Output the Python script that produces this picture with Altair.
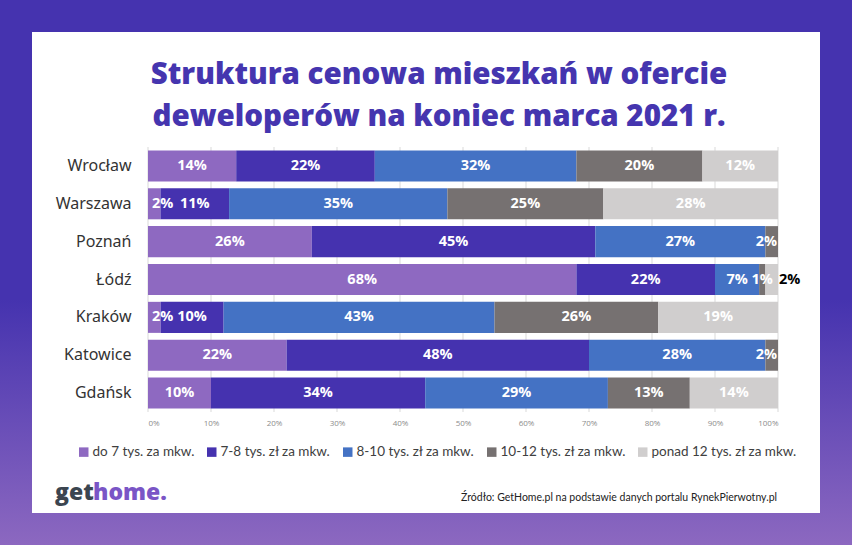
import altair as alt
import pandas as pd

# ---------------- data ----------------
cities = ["Wrocław", "Warszawa", "Poznań", "Łódź", "Kraków", "Katowice", "Gdańsk"]
categories = [
    "do 7 tys. za mkw.",
    "7-8 tys. zł za mkw.",
    "8-10 tys. zł za mkw.",
    "10-12 tys. zł za mkw.",
    "ponad 12 tys. zł za mkw.",
]
colors = ["#8E69C1", "#4532AF", "#4472C4", "#767171", "#D0CECE"]

share_do7 = [14, 2, 26, 68, 2, 22, 10]
share_7_8 = [22, 11, 45, 22, 10, 48, 34]
share_8_10 = [32, 35, 27, 7, 43, 28, 29]
share_10_12 = [20, 25, 2, 1, 26, 2, 13]
share_over12 = [12, 28, 0, 2, 19, 0, 14]

tick_values = [0, 0.1, 0.2, 0.3, 0.4, 0.5, 0.6, 0.7, 0.8, 0.9, 1.0]

title_lines = ["Struktura cenowa mieszkań w ofercie", "deweloperów na koniec marca 2021 r."]
source_text = "Źródło: GetHome.pl na podstawie danych portalu RynekPierwotny.pl"

# ---------------- table ----------------
series = [share_do7, share_7_8, share_8_10, share_10_12, share_over12]
rows = []
for i, city in enumerate(cities):
    vals = [s[i] for s in series]
    total = sum(vals)
    cum = 0
    for j, v in enumerate(vals):
        start = cum / total
        cum += v
        end = cum / total
        if v > 0:
            last = j == len(categories) - 1
            if last and v <= 2:
                place = "outside"
            elif start == 0 and v < 4:
                place = "left"
            elif end > 0.999 and v <= 2:
                place = "right"
            else:
                place = "center"
            rows.append({
                "city": city, "cat": categories[j], "order": j, "value": v,
                "start": start, "end": end, "mid": (start + end) / 2,
                "label": f"{v}%", "place": place,
            })
df = pd.DataFrame(rows)
ticks_df = pd.DataFrame({"t": tick_values})
one = pd.DataFrame({"a": [0]})

# ---------------- layout constants ----------------
W, H = 630, 265
PL, PT = 148, 147
PR, PB = 852 - PL - W, 545 - PT - H

xscale = alt.Scale(domain=[0, 1], nice=False, zero=False)
yscale = alt.Scale(domain=cities, paddingInner=0.18, paddingOuter=0.09)
xaxis = alt.Axis(format=".0%", values=tick_values, labelFontSize=8, labelColor="#8C8C8C",
                 labelFont="Open Sans", domain=False, ticks=False, grid=False,
                 labelPadding=7, title=None, zindex=1)
yaxis = alt.Axis(labelFontSize=16, labelColor="#333333", labelFont="Noto Sans",
                 domain=False, ticks=False, grid=False, labelPadding=17, title=None, zindex=1)

# ---------------- decorations ----------------
gradient = alt.LinearGradient(
    gradient="linear", x1=0, x2=0, y1=0, y2=1,
    stops=[alt.GradientStop(color="#4533AF", offset=0),
           alt.GradientStop(color="#4533AF", offset=0.55),
           alt.GradientStop(color="#8C68C0", offset=1)],
)
bg = alt.Chart(one).mark_rect(color=gradient).encode(
    x=alt.value(-PL), x2=alt.value(W + PR), y=alt.value(-PT), y2=alt.value(H + PB))
card = alt.Chart(one).mark_rect(color="white").encode(
    x=alt.value(32 - PL), x2=alt.value(820 - PL), y=alt.value(32 - PT), y2=alt.value(513 - PT))

grid = alt.Chart(ticks_df).mark_rule(color="#D9D9D9", strokeWidth=1).encode(
    x=alt.X("t:Q", scale=xscale, axis=xaxis), y=alt.value(0), y2=alt.value(H))

# ---------------- bars ----------------
bars = alt.Chart(df).mark_bar().encode(
    x=alt.X("start:Q", scale=xscale, axis=xaxis),
    x2="end:Q",
    y=alt.Y("city:N", scale=yscale, axis=yaxis, sort=cities),
    color=alt.Color("cat:N", scale=alt.Scale(domain=categories, range=colors),
                    legend=alt.Legend(orient="none", legendX=77 - PL, legendY=445 - PT,
                                      direction="horizontal", title=None,
                                      symbolType="square", symbolSize=90,
                                      symbolStrokeWidth=0, labelFontSize=13.5,
                                      labelFont="Lato", labelColor="#404040",
                                      columnPadding=10, labelOffset=2, labelLimit=300)),
    order=alt.Order("order:Q"),
)


def label_layer(place, field, color, align, dx):
    return alt.Chart(df).transform_filter(f"datum.place == '{place}'").mark_text(
        color=color, fontSize=14.5, fontWeight="bold", font="Open Sans",
        baseline="middle", align=align, dx=dx
    ).encode(
        x=alt.X(f"{field}:Q", scale=xscale, axis=xaxis),
        y=alt.Y("city:N", scale=yscale, axis=yaxis, sort=cities),
        text="label:N",
    )


labels_center = label_layer("center", "mid", "white", "center", 0)
labels_left = label_layer("left", "start", "white", "left", 4)
labels_right = label_layer("right", "end", "white", "right", -1)
labels_out = label_layer("outside", "end", "black", "left", 1)

# ---------------- texts ----------------
title = alt.Chart(one).mark_text(
    font="Open Sans", fontSize=29.5, fontWeight=800, color="#4535AF",
    align="center", baseline="top", lineHeight=42
).encode(x=alt.value(439 - PL), y=alt.value(61 - PT), text=alt.value(title_lines))

logo_get = alt.Chart(one).mark_text(
    font="Open Sans", fontSize=23, fontWeight=800, color="#3B4550",
    align="left", baseline="alphabetic"
).encode(x=alt.value(55 - PL), y=alt.value(500 - PT), text=alt.value("get"))
logo_home = alt.Chart(one).mark_text(
    font="Open Sans", fontSize=23, fontWeight=800, color="#7A55C6",
    align="left", baseline="alphabetic"
).encode(x=alt.value(93 - PL), y=alt.value(500 - PT), text=alt.value("home."))

source = alt.Chart(one).mark_text(
    font="Lato", fontSize=10.5, color="#222222", align="right", baseline="alphabetic"
).encode(x=alt.value(777 - PL), y=alt.value(501 - PT), text=alt.value(source_text))

chart = alt.layer(
    bg, card, grid, bars, labels_center, labels_left, labels_right, labels_out,
    title, logo_get, logo_home, source
).properties(
    width=W, height=H,
    padding={"left": PL, "top": PT, "right": PR, "bottom": PB},
    autosize=alt.AutoSizeParams(type="none"),
    background="#4533AF",
).configure_view(stroke=None)

chart.save("out.html", embed_options={"renderer": "svg", "actions": False})
